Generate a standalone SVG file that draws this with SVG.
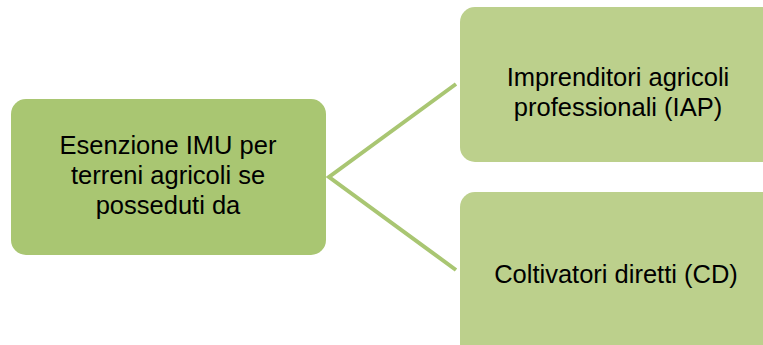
<svg xmlns="http://www.w3.org/2000/svg" width="763" height="345" viewBox="0 0 763 345">
<style>
.t{font-family:"Liberation Sans",Arial,sans-serif;font-size:25.5px;fill:#000;text-anchor:middle}
.conn{stroke:#A9C672;stroke-width:4;fill:none}
</style>
<rect width="763" height="345" fill="#fff"/>
<g id="connectors">
<path class="conn" d="M456,84 L329,177 L456,270"/>
</g>
<g id="root">
<rect x="11" y="99" width="315" height="156" rx="15" fill="#A9C672"/>
<text class="t" x="168" y="154">Esenzione IMU per</text>
<text class="t" x="168" y="184">terreni agricoli se</text>
<text class="t" x="168" y="214">posseduti da</text>
</g>
<g id="iap">
<rect x="460" y="7" width="318" height="155" rx="15" fill="#BCD08C"/>
<text class="t" x="618" y="86">Imprenditori agricoli</text>
<text class="t" x="618" y="116">professionali (IAP)</text>
</g>
<g id="cd">
<rect x="460" y="192" width="318" height="170" rx="15" fill="#BCD08C"/>
<text class="t" x="616" y="283">Coltivatori diretti (CD)</text>
</g>
</svg>
